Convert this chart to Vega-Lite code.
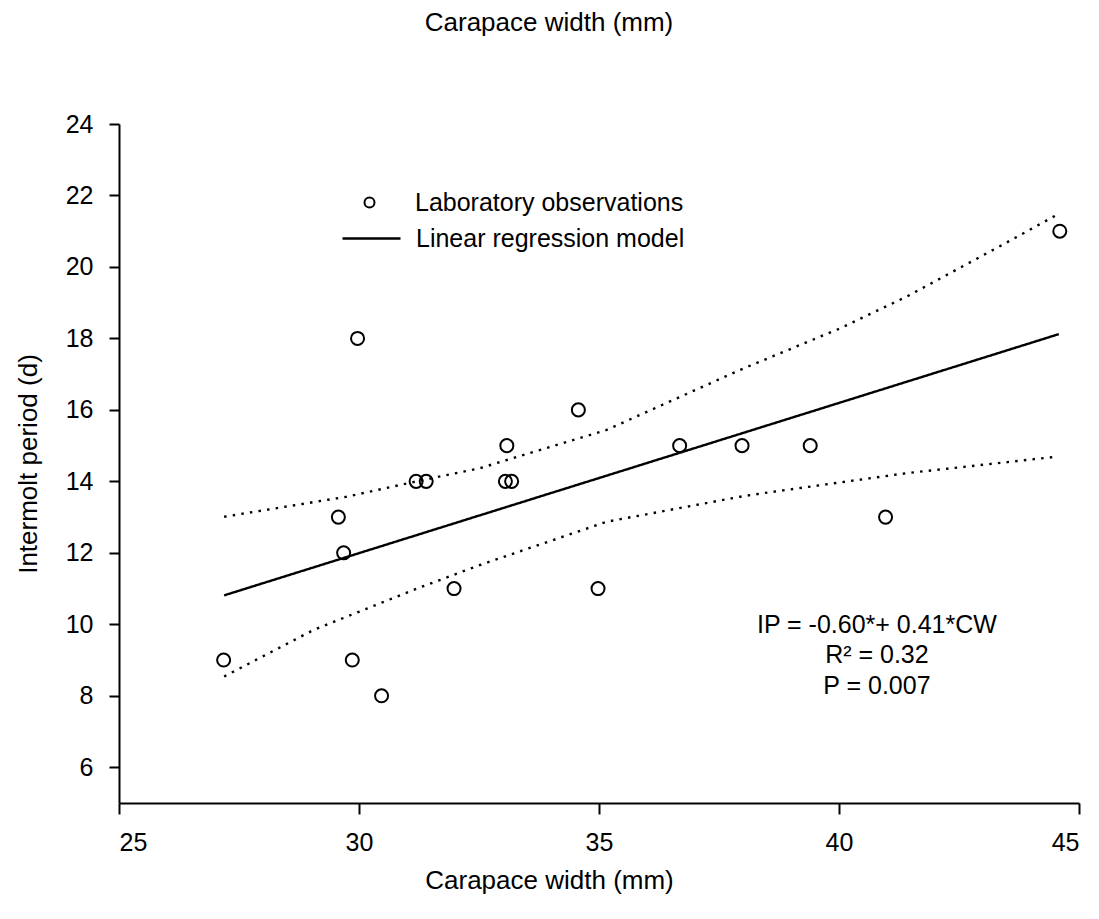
{
  "$schema": "https://vega.github.io/schema/vega-lite/v6.json",
  "width": 960,
  "height": 679,
  "autosize": {"type": "none"},
  "padding": {"left": 119, "top": 124, "right": 20, "bottom": 116},
  "background": "white",
  "title": {"text": "Carapace width (mm)", "fontSize": 26, "fontWeight": "normal", "color": "black", "font": "Liberation Sans", "dx": -50, "offset": 76},
  "config": {
    "font": "Liberation Sans",
    "view": {"stroke": null},
    "axis": {
      "domainColor": "black", "domainWidth": 2, "tickColor": "black", "tickWidth": 2, "tickSize": 10,
      "labelFontSize": 25, "labelColor": "black", "labelFont": "Liberation Sans",
      "titleFontSize": 26, "titleFontWeight": "normal", "titleColor": "black", "titleFont": "Liberation Sans",
      "grid": false
    },
    "legend": {"labelFontSize": 25, "labelFont": "Liberation Sans", "labelColor": "black", "labelLimit": 500}
  },
  "encoding": {
    "x": {"field": "cw", "type": "quantitative", "scale": {"domain": [25, 45], "nice": false, "zero": false},
      "axis": {"title": "Carapace width (mm)", "values": [25, 30, 35, 40, 45], "tickSize": 11, "labelPadding": 16, "titlePadding": 12, "titleX": 430}},
    "y": {"field": "ip", "type": "quantitative", "scale": {"domain": [5, 24], "nice": false, "zero": false},
      "axis": {"title": "Intermolt period (d)", "values": [6, 8, 10, 12, 14, 16, 18, 20, 22, 24], "labelPadding": 16, "titlePadding": 24}}
  },
  "layer": [
    {
      "data": {"values": [
        {"curve": "Linear regression model", "cw": 27.19, "ip": 10.81},
        {"curve": "Linear regression model", "cw": 44.58, "ip": 18.12},
        {"curve": "upper", "cw": 27.19, "ip": 13.01},
        {"curve": "upper", "cw": 29.74, "ip": 13.57},
        {"curve": "upper", "cw": 31.13, "ip": 13.98},
        {"curve": "upper", "cw": 32.52, "ip": 14.37},
        {"curve": "upper", "cw": 35.16, "ip": 15.44},
        {"curve": "upper", "cw": 37.94, "ip": 17.12},
        {"curve": "upper", "cw": 40.02, "ip": 18.28},
        {"curve": "upper", "cw": 41.41, "ip": 19.17},
        {"curve": "upper", "cw": 43.42, "ip": 20.63},
        {"curve": "upper", "cw": 44.50, "ip": 21.43},
        {"curve": "lower", "cw": 27.19, "ip": 8.54},
        {"curve": "lower", "cw": 29.05, "ip": 9.84},
        {"curve": "lower", "cw": 31.13, "ip": 10.96},
        {"curve": "lower", "cw": 32.52, "ip": 11.66},
        {"curve": "lower", "cw": 35.16, "ip": 12.87},
        {"curve": "lower", "cw": 37.94, "ip": 13.57},
        {"curve": "lower", "cw": 38.42, "ip": 13.67},
        {"curve": "lower", "cw": 41.41, "ip": 14.23},
        {"curve": "lower", "cw": 44.53, "ip": 14.69}
      ]},
      "mark": {"type": "line", "color": "black", "strokeWidth": 2.4},
      "encoding": {
        "detail": {"field": "curve"},
        "strokeDash": {"field": "curve", "type": "nominal",
          "scale": {"domain": ["Linear regression model", "upper", "lower"], "range": [[1, 0], [2.5, 6.2], [2.5, 6.2]]},
          "legend": {
            "title": null, "orient": "none", "legendX": 222, "legendY": 84, "values": ["Linear regression model"],
            "symbolType": "stroke", "symbolSize": 3364, "symbolStrokeColor": "black", "symbolStrokeWidth": 2.4, "symbolOpacity": 1,
            "labelOffset": 14
          }
        }
      }
    },
    {
      "data": {"values": [
        {"series": "Laboratory observations", "cw": 27.18, "ip": 9},
        {"series": "Laboratory observations", "cw": 29.57, "ip": 13},
        {"series": "Laboratory observations", "cw": 29.68, "ip": 12},
        {"series": "Laboratory observations", "cw": 29.86, "ip": 9},
        {"series": "Laboratory observations", "cw": 29.97, "ip": 18},
        {"series": "Laboratory observations", "cw": 30.47, "ip": 8},
        {"series": "Laboratory observations", "cw": 31.19, "ip": 14},
        {"series": "Laboratory observations", "cw": 31.40, "ip": 14},
        {"series": "Laboratory observations", "cw": 31.98, "ip": 11},
        {"series": "Laboratory observations", "cw": 33.08, "ip": 15},
        {"series": "Laboratory observations", "cw": 33.05, "ip": 14},
        {"series": "Laboratory observations", "cw": 33.18, "ip": 14},
        {"series": "Laboratory observations", "cw": 34.57, "ip": 16},
        {"series": "Laboratory observations", "cw": 34.98, "ip": 11},
        {"series": "Laboratory observations", "cw": 36.68, "ip": 15},
        {"series": "Laboratory observations", "cw": 37.98, "ip": 15},
        {"series": "Laboratory observations", "cw": 39.40, "ip": 15},
        {"series": "Laboratory observations", "cw": 40.97, "ip": 13},
        {"series": "Laboratory observations", "cw": 44.60, "ip": 21}
      ]},
      "mark": {"type": "point", "filled": false, "color": "black", "strokeWidth": 2, "size": 170, "opacity": 1},
      "encoding": {
        "shape": {"field": "series", "type": "nominal",
          "scale": {"domain": ["Laboratory observations"], "range": ["circle"]},
          "legend": {
            "title": null, "orient": "none", "legendX": 238, "legendY": 66,
            "symbolSize": 100, "symbolStrokeColor": "black", "symbolFillColor": "transparent", "symbolStrokeWidth": 2, "symbolOpacity": 1,
            "labelOffset": 33
          }
        }
      }
    },
    {
      "data": {"values": [
        {"cw": 40.79, "ip": 9.98, "label": "IP = -0.60*+ 0.41*CW"},
        {"cw": 40.79, "ip": 9.14, "label": "R² = 0.32"},
        {"cw": 40.79, "ip": 8.28, "label": "P = 0.007"}
      ]},
      "mark": {"type": "text", "fontSize": 25, "font": "Liberation Sans", "color": "black", "align": "center", "baseline": "middle"},
      "encoding": {"text": {"field": "label"}}
    }
  ]
}
